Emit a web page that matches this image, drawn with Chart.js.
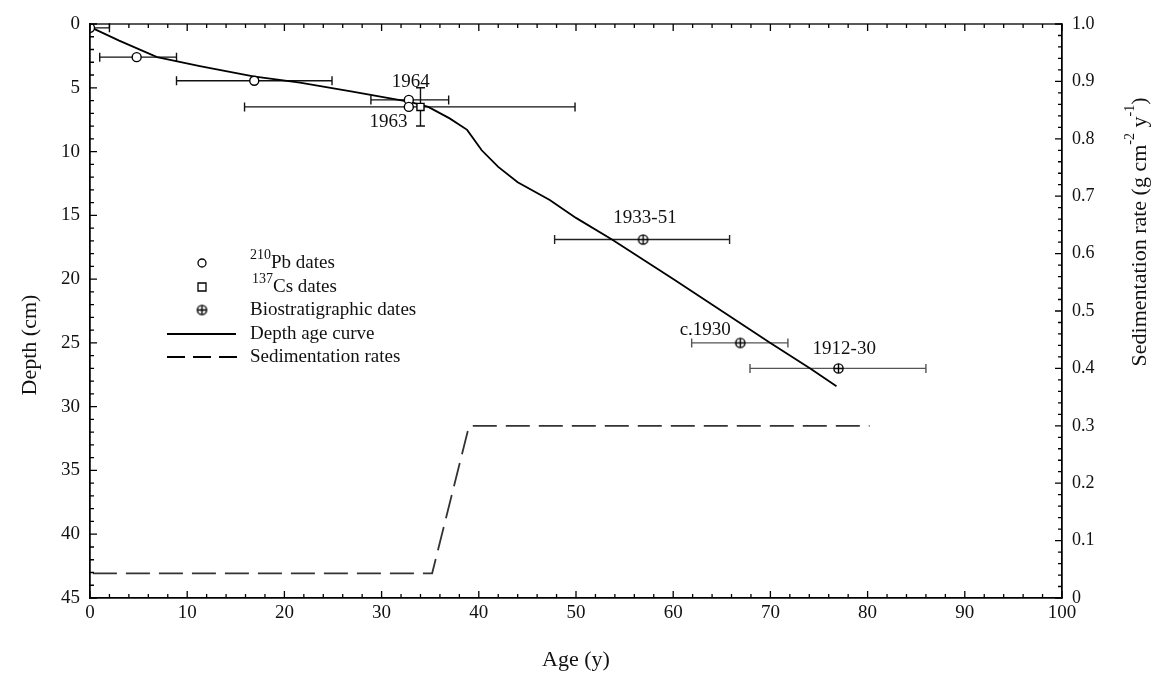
<!DOCTYPE html>
<html><head><meta charset="utf-8">
<script src="https://cdn.jsdelivr.net/npm/chart.js@4.4.1/dist/chart.umd.min.js"></script>
<style>html,body{margin:0;padding:0;background:#fff;}#wrap{position:relative;width:1158px;height:679px;}</style>
</head><body><div id="wrap"><canvas id="c" width="1158" height="679"></canvas></div>
<script>
const FONT = "'Liberation Serif','Times New Roman',serif";

// Depth-age curve
const curveAge   = [0.2, 3, 6.9, 11.3, 16.8, 21.6, 27, 32.9, 34.8, 37, 38.8, 40.3, 42, 44, 47.3, 50, 53.7, 60, 65, 70, 74.1, 76.8];
const curveDepth = [0.3, 1.3, 2.6, 3.3, 4.1, 4.6, 5.3, 6.1, 6.5, 7.4, 8.3, 9.9, 11.2, 12.4, 13.8, 15.2, 16.9, 20.0, 22.5, 25.0, 27.0, 28.4];
// Sedimentation rates (right axis)
const rateAge   = [0.3, 35.2, 39.0, 80.2];
const rateValue = [0.043, 0.043, 0.30, 0.30];
// 210Pb dates
const pbAge     = [0, 4.8, 16.9, 32.8, 32.8];
const pbDepth   = [0.3, 2.6, 4.45, 5.95, 6.5];
const pbAgeLow  = [0, 1.0, 8.9, 28.9, 15.9];
const pbAgeHigh = [2, 8.9, 24.9, 36.9, 49.9];
// 137Cs dates
const csAge       = [34];
const csDepth     = [6.5];
const csDepthLow  = [5.0];
const csDepthHigh = [8.0];
// Biostratigraphic dates
const bioAge     = [56.9, 66.9, 77.0];
const bioDepth   = [16.9, 25.0, 27.0];
const bioAgeLow  = [47.8, 61.9, 67.9];
const bioAgeHigh = [65.8, 71.8, 86.0];
// Tick labels
const xTicks = [0,10,20,30,40,50,60,70,80,90,100];
const yTicks = [0,5,10,15,20,25,30,35,40,45];
const y2Ticks = ['0','0.1','0.2','0.3','0.4','0.5','0.6','0.7','0.8','0.9','1.0'];
// Annotation texts
const noteText  = ['1964','1963','1933-51','c.1930','1912-30'];
const noteAge   = [33.0, 30.7, 57.1, 63.3, 77.6];
const noteDepth = [4.55, 7.68, 15.2, 24.0, 25.5];

function pts(xs, ys){ return xs.map((x,i)=>({x:x, y:ys[i]})); }

// crossed circle marker
const bioImg = document.createElement('canvas');
bioImg.width = 13; bioImg.height = 13;
(function(){
  const g = bioImg.getContext('2d');
  g.fillStyle = '#fff'; g.strokeStyle = '#000'; g.lineWidth = 1.4;
  g.beginPath(); g.arc(6.5,6.5,4.6,0,Math.PI*2); g.fill(); g.stroke();
  g.beginPath(); g.moveTo(6.5,2); g.lineTo(6.5,11); g.moveTo(2,6.5); g.lineTo(11,6.5); g.stroke();
})();

const errorBars = {
  id: 'errorBars',
  beforeDatasetsDraw(chart){
    const {ctx, scales:{x, y}} = chart;
    ctx.save();
    ctx.lineWidth = 1.4;
    const cap = 4.5;
    function hbar(lo, hi, d, color){
      const y0 = y.getPixelForValue(d), a = x.getPixelForValue(lo), b = x.getPixelForValue(hi);
      ctx.strokeStyle = color;
      ctx.beginPath();
      ctx.moveTo(a, y0); ctx.lineTo(b, y0);
      ctx.moveTo(a, y0-cap); ctx.lineTo(a, y0+cap);
      ctx.moveTo(b, y0-cap); ctx.lineTo(b, y0+cap);
      ctx.stroke();
    }
    function vbar(lo, hi, ag, color){
      const x0 = x.getPixelForValue(ag), a = y.getPixelForValue(lo), b = y.getPixelForValue(hi);
      ctx.strokeStyle = color;
      ctx.beginPath();
      ctx.moveTo(x0, a); ctx.lineTo(x0, b);
      ctx.moveTo(x0-cap, a); ctx.lineTo(x0+cap, a);
      ctx.moveTo(x0-cap, b); ctx.lineTo(x0+cap, b);
      ctx.stroke();
    }
    pbAge.forEach((a,i)=>hbar(pbAgeLow[i], pbAgeHigh[i], pbDepth[i], '#111'));
    csAge.forEach((a,i)=>vbar(csDepthLow[i], csDepthHigh[i], a, '#111'));
    bioAge.forEach((a,i)=>hbar(bioAgeLow[i], bioAgeHigh[i], bioDepth[i], i===0 ? '#222' : '#555'));
    ctx.restore();
  }
};

const frame = {
  id: 'frame',
  afterDraw(chart){
    const {ctx, chartArea:a, scales:{x, y, y2}} = chart;
    ctx.save();
    ctx.strokeStyle = '#000'; ctx.lineWidth = 1.3;
    ctx.strokeRect(a.left, a.top, a.right-a.left, a.bottom-a.top);
    ctx.beginPath();
    for (let v = 0; v <= 100; v += 2){
      const p = x.getPixelForValue(v), L = v % 10 === 0 ? 7 : 4;
      ctx.moveTo(p, a.bottom); ctx.lineTo(p, a.bottom-L);
      ctx.moveTo(p, a.top); ctx.lineTo(p, a.top+L);
    }
    for (let v = 0; v <= 45; v += 1){
      const p = y.getPixelForValue(v), L = v % 5 === 0 ? 7 : 4;
      ctx.moveTo(a.left, p); ctx.lineTo(a.left+L, p);
    }
    for (let i = 0; i <= 50; i++){
      const p = y2.getPixelForValue(i*0.02), L = i % 5 === 0 ? 7 : 4;
      ctx.moveTo(a.right, p); ctx.lineTo(a.right-L, p);
    }
    ctx.stroke();

    // annotations
    ctx.fillStyle = '#111';
    ctx.font = '19px ' + FONT;
    ctx.textAlign = 'center'; ctx.textBaseline = 'middle';
    noteText.forEach((t,i)=>ctx.fillText(t, x.getPixelForValue(noteAge[i]), y.getPixelForValue(noteDepth[i])));

    // axis titles
    ctx.font = '22px ' + FONT;
    ctx.fillText('Age (y)', (a.left+a.right)/2, 660);
    ctx.save();
    ctx.translate(30, 345); ctx.rotate(-Math.PI/2);
    ctx.fillText('Depth (cm)', 0, 0);
    ctx.restore();

    // right title with superscripts
    ctx.save();
    ctx.translate(1140, 232); ctx.rotate(-Math.PI/2);
    const parts = [['Sedimentation rate (g cm',0],['-2',1],[' y',0],['-1',1],[')',0]];
    const big = '22px ' + FONT, small = '14px ' + FONT;
    let total = 0;
    parts.forEach(p=>{ ctx.font = p[1] ? small : big; total += ctx.measureText(p[0]).width; });
    let cx = -total/2;
    ctx.textAlign = 'left';
    parts.forEach(p=>{
      ctx.font = p[1] ? small : big;
      ctx.fillText(p[0], cx, p[1] ? -10 : 0);
      cx += ctx.measureText(p[0]).width;
    });
    ctx.restore();

    // legend
    const lx = 202;
    const rows = [263, 287, 310, 334, 357];
    ctx.lineWidth = 1.3; ctx.strokeStyle = '#000'; ctx.fillStyle = '#fff';
    ctx.beginPath(); ctx.arc(lx, rows[0], 4, 0, Math.PI*2); ctx.fill(); ctx.stroke();
    ctx.beginPath(); ctx.rect(lx-4, rows[1]-4, 8, 8); ctx.fill(); ctx.stroke();
    ctx.drawImage(bioImg, lx-6.5, rows[2]-6.5);
    ctx.lineWidth = 1.8;
    ctx.beginPath(); ctx.moveTo(167, rows[3]); ctx.lineTo(236, rows[3]); ctx.stroke();
    ctx.setLineDash([18, 8]);
    ctx.beginPath(); ctx.moveTo(167, rows[4]); ctx.lineTo(238, rows[4]); ctx.stroke();
    ctx.setLineDash([]);
    ctx.fillStyle = '#111';
    ctx.textAlign = 'left'; ctx.textBaseline = 'middle';
    const tx = 250;
    ctx.font = small; ctx.fillText('210', tx, rows[0]-8);
    let w = ctx.measureText('210').width;
    ctx.font = big.replace('22px','19px'); ctx.fillText('Pb dates', tx+w, rows[0]);
    ctx.font = small; const w2 = ctx.measureText('137').width; ctx.fillText('137', tx+w-w2+2, rows[1]-8);
    ctx.font = '19px ' + FONT; ctx.fillText('Cs dates', tx+w+2, rows[1]);
    ctx.fillText('Biostratigraphic dates', tx, rows[2]);
    ctx.fillText('Depth age curve', tx, rows[3]);
    ctx.fillText('Sedimentation rates', tx, rows[4]);
    ctx.restore();
  }
};

const tickFont = {family: FONT, size: 19};
new Chart(document.getElementById('c'), {
  type: 'scatter',
  data: {
    datasets: [
      {label:'Depth age curve', data: pts(curveAge, curveDepth), showLine:true, borderColor:'#000', borderWidth:1.8, pointRadius:0, yAxisID:'y', order:3},
      {label:'Sedimentation rates', data: pts(rateAge, rateValue), showLine:true, borderColor:'#333', borderWidth:1.8, borderDash:[24,9], pointRadius:0, yAxisID:'y2', order:4},
      {label:'210Pb dates', data: pts(pbAge, pbDepth), pointStyle:'circle', pointRadius:4.5, backgroundColor:'#fff', borderColor:'#000', borderWidth:1.4, yAxisID:'y', order:1},
      {label:'137Cs dates', data: pts(csAge, csDepth), pointStyle:'rect', pointRadius:5, backgroundColor:'#fff', borderColor:'#000', borderWidth:1.4, yAxisID:'y', order:0},
      {label:'Biostratigraphic dates', data: pts(bioAge, bioDepth), pointStyle: bioImg, pointRadius:6, yAxisID:'y', order:1}
    ]
  },
  options: {
    responsive:false, animation:false, devicePixelRatio:1,
    layout:{padding:{top:24, right:0, bottom:0, left:0}},
    plugins:{legend:{display:false}, tooltip:{enabled:false}},
    scales:{
      x:{type:'linear', position:'bottom', min:0, max:100,
         afterBuildTicks(s){ s.ticks = xTicks.map(v=>({value:v})); },
         ticks:{font:tickFont, color:'#111', padding:4, maxRotation:0},
         grid:{display:false, drawTicks:false}, border:{display:true, color:'#000', width:1.3},
         afterFit(s){ s.height = 81; }},
      y:{type:'linear', position:'left', reverse:true, min:0, max:45,
         afterBuildTicks(s){ s.ticks = yTicks.map(v=>({value:v})); },
         ticks:{font:tickFont, color:'#111', padding:10},
         grid:{display:false, drawTicks:false}, border:{display:true, color:'#000', width:1.3},
         afterFit(s){ s.width = 90; }},
      y2:{type:'linear', position:'right', min:0, max:1,
         afterBuildTicks(s){ s.ticks = y2Ticks.map(v=>({value:parseFloat(v)})); },
         ticks:{font:{family:FONT, size:18}, color:'#111', padding:10,
                callback:(v, i)=>y2Ticks[i]},
         grid:{display:false, drawTicks:false}, border:{display:true, color:'#000', width:1.3},
         afterFit(s){ s.width = 96; }}
    }
  },
  plugins:[errorBars, frame]
});
</script></body></html>
